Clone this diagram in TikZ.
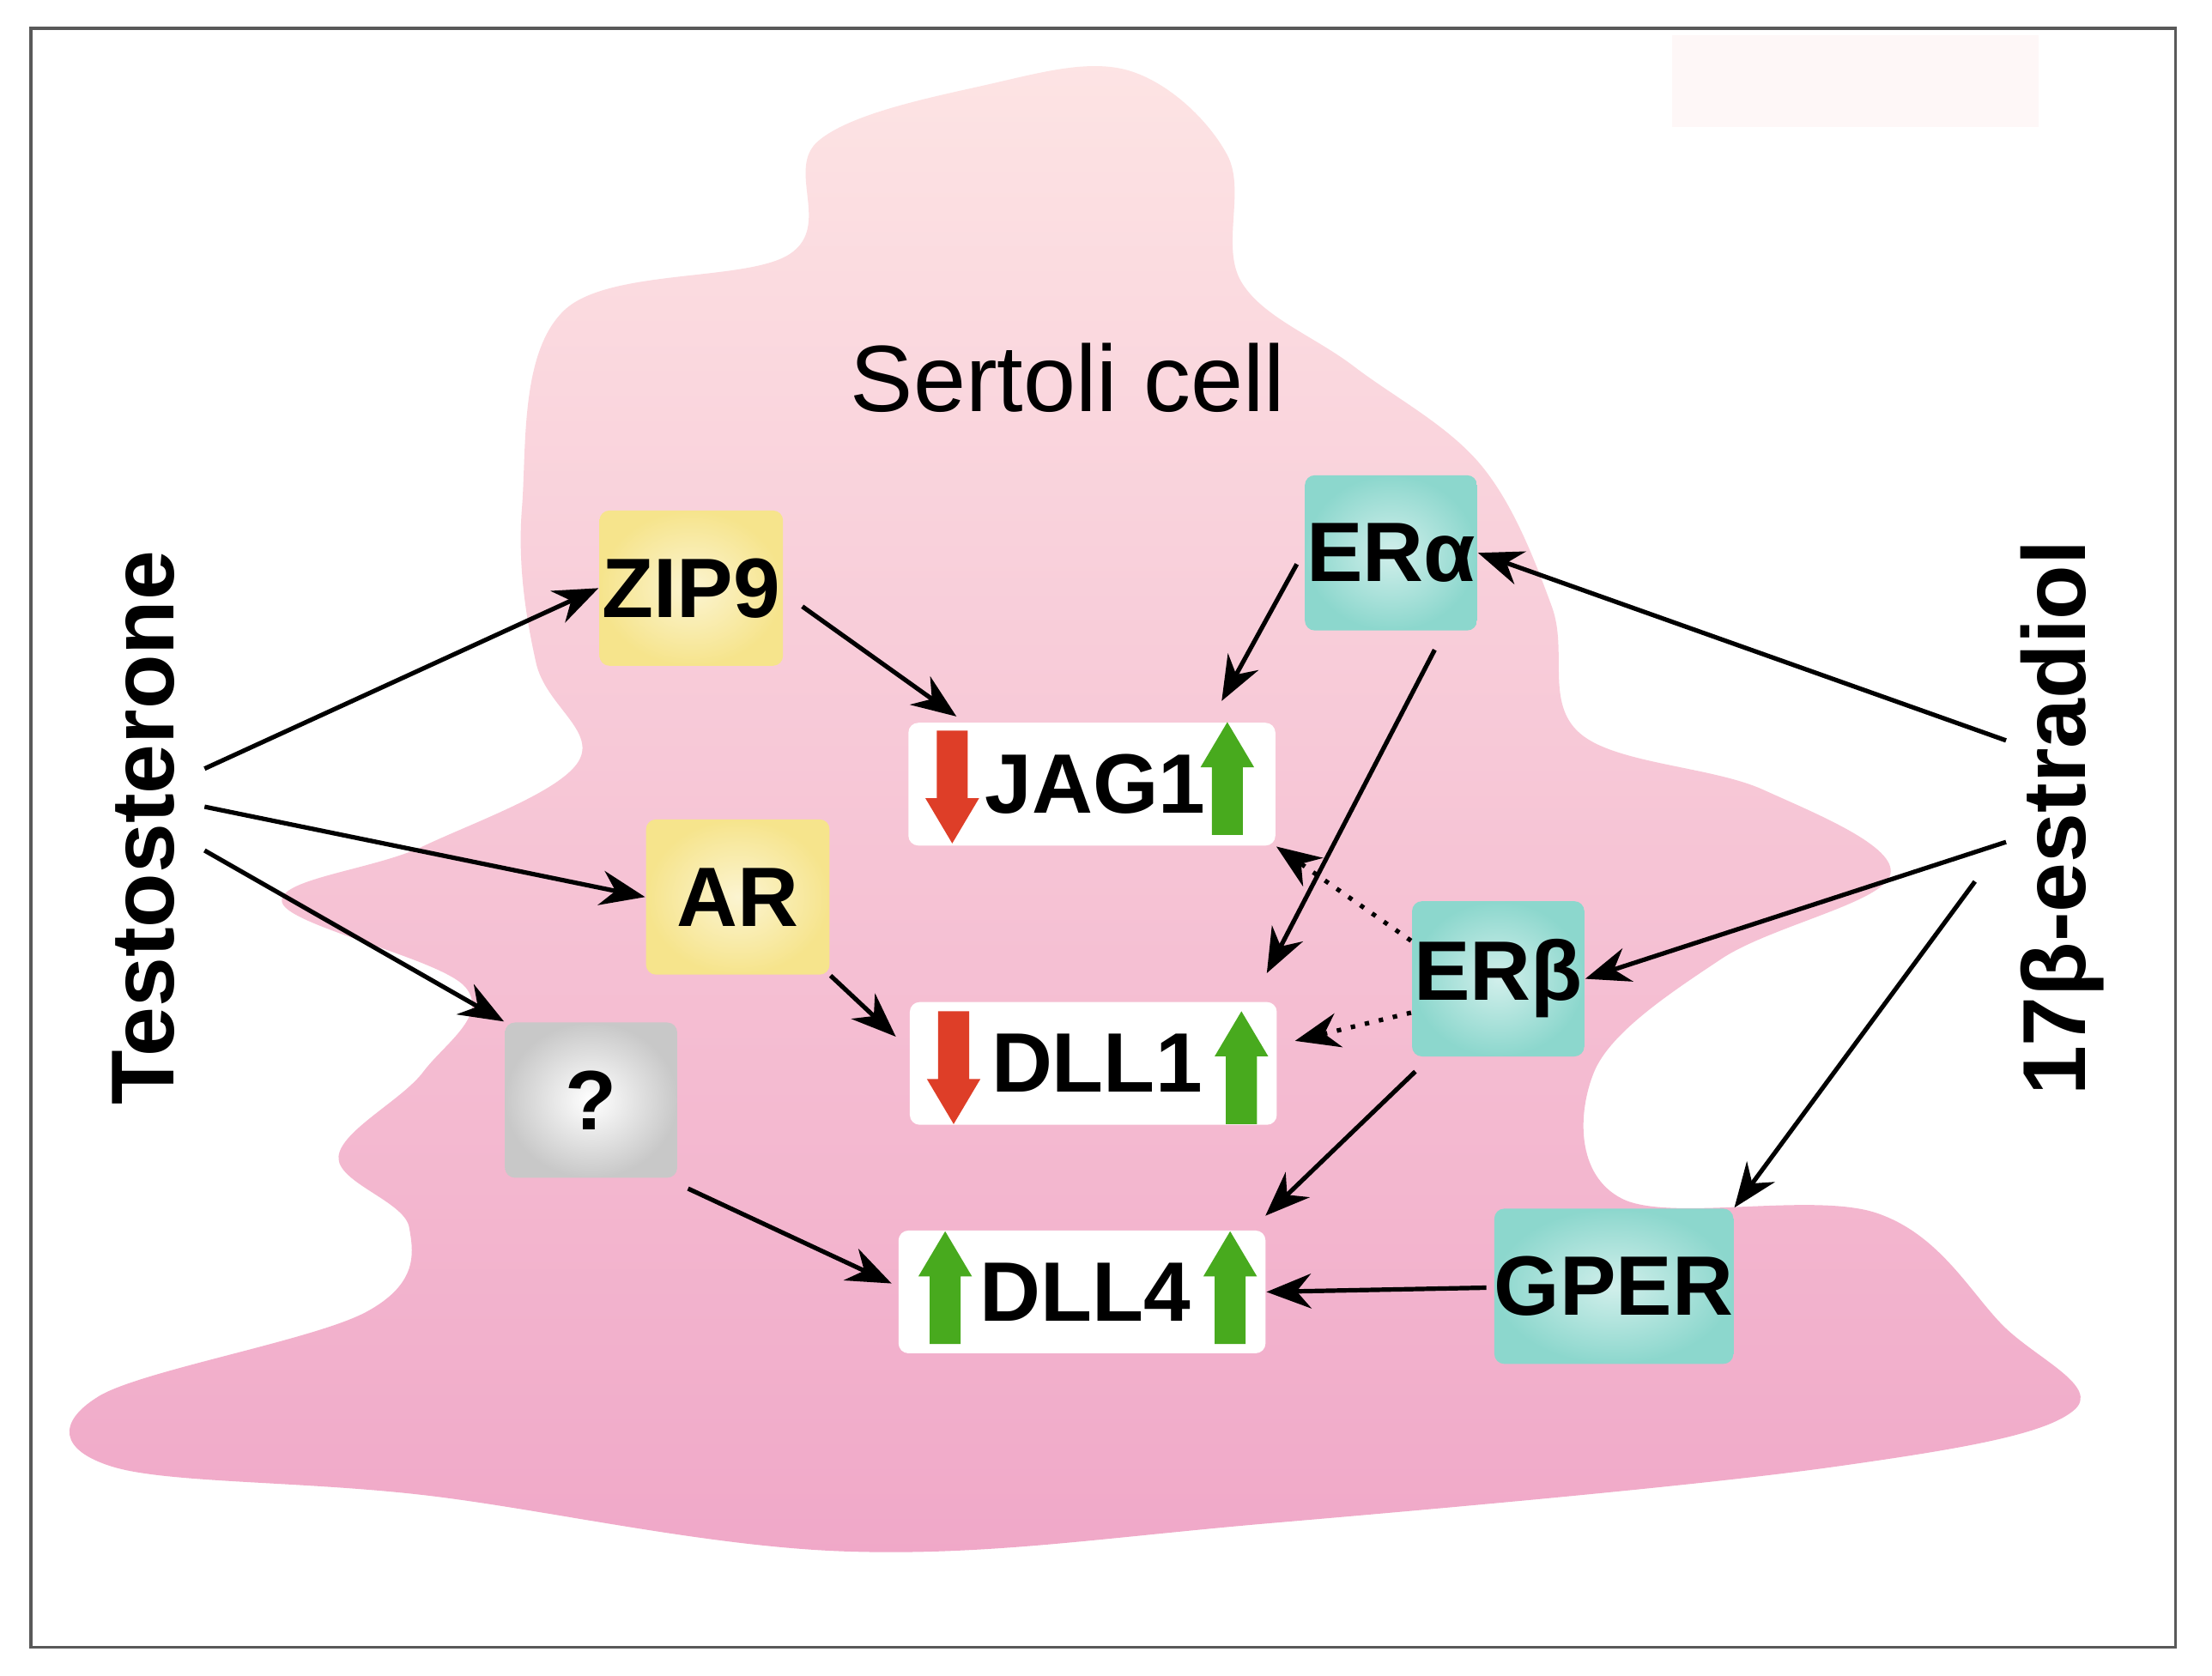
\documentclass[tikz,border=0pt]{standalone}
\usepackage{fontspec}
\setmainfont{Liberation Sans}
\usetikzlibrary{arrows.meta}
\definecolor{cellTop}{RGB}{253,228,228}
\definecolor{cellBot}{RGB}{240,168,200}
\definecolor{recY}{RGB}{246,228,140}
\definecolor{recT}{RGB}{140,215,205}
\definecolor{recG}{RGB}{200,200,200}
\definecolor{upG}{RGB}{72,170,30}
\definecolor{dnR}{RGB}{222,62,40}
\tikzset{
  arrow/.style={line width=0.9pt,-{Stealth[length=9pt,width=7pt]}},
  dotarrow/.style={arrow,dotted},
  rec/.style={minimum width=#1, minimum height=1.1cm, rounded corners=2pt,
    font=\fontsize{17}{20}\selectfont\bfseries, inner sep=0pt},
  yrec/.style={rec=1.3cm, shading=radial, inner color=white!60!recY, outer color=recY},
  trec/.style={rec=1.22cm, shading=radial, inner color=white!60!recT, outer color=recT},
  grec/.style={rec=1.22cm, shading=radial, inner color=white, outer color=recG},
  gene/.style={fill=white, rounded corners=2pt, minimum width=2.6cm, minimum height=0.87cm,
    font=\fontsize{17}{20}\selectfont\bfseries},
  up/.pic={\fill[upG] (-11,40) -- (-11,-8) -- (-19,-8) -- (0,-40) -- (19,-8) -- (11,-8) -- (11,40) -- cycle;},
  dn/.pic={\fill[dnR] (-11,-40) -- (-11,8) -- (-19,8) -- (0,40) -- (19,8) -- (11,8) -- (11,-40) -- cycle;},
}
\begin{document}
\begin{tikzpicture}[x=0.01cm,y=-0.01cm]
  \useasboundingbox (0,0) rectangle (1568,1188);
  % frame
  \fill[white] (0,0) rectangle (1568,1188);
  \draw[line width=0.6pt, gray!70!black] (22,20) rectangle (1542,1168);
  \fill[cellTop!30] (1185,25) rectangle (1445,90);

  % CELL
  \shade[top color=cellTop, bottom color=cellBot] plot[smooth cycle, tension=0.6] coordinates {
    (800,50) (870,110) (880,200) (960,260) (1050,330) (1100,430) (1120,520)
    (1250,560) (1340,620) (1220,680) (1130,760) (1150,850) (1330,860) (1420,940)
    (1470,1000) (1300,1040) (900,1080) (600,1100) (300,1060) (80,1040) (70,990)
    (260,930) (290,870) (240,820) (300,760) (330,700) (200,640) (300,600)
    (410,540) (380,470) (370,360) (400,220) (560,180) (580,100) (700,60)};
  \node[font=\fontsize{19}{22}\selectfont] (cell) at (757,268) {Sertoli cell};

  % HORMONES
  \node[rotate=90, font=\fontsize{18}{22}\selectfont\bfseries] (testo) at (102,587) {Testosterone};
  \node[rotate=90, font=\fontsize{18}{22}\selectfont\bfseries] (estr) at (1462,580) {17β-estradiol};
  \coordinate (t1) at (145,545);
  \coordinate (t2) at (145,572);
  \coordinate (t3) at (145,603);
  \coordinate (e1) at (1422,525);
  \coordinate (e2) at (1422,597);
  \coordinate (e3) at (1400,625);

  % RECEPTORS
  \node[yrec] (zip) at (490,417) {ZIP9};
  \node[yrec=1.23cm] (ar) at (523,636) {AR};
  \node[grec] (unk) at (419,780) {?};
  \node[trec] (era) at (986,392) {ERα};
  \node[trec=1.25cm] (erb) at (1062,694) {ERβ};
  \node[trec=1.88cm] (gper) at (1144,912) {GPER};

  % GENES
  \node[gene] (jag) at (774,556) {\hspace{0.05cm}JAG1};
  \node[gene] (dll1) at (775,754) {\hspace{0.05cm}DLL1};
  \node[gene] (dll4) at (767,916) {\hspace{0.05cm}DLL4};
  \pic at (675,558) {dn};
  \pic at (870,552) {up};
  \pic at (676,757) {dn};
  \pic at (880,757) {up};
  \pic at (670,913) {up};
  \pic at (872,913) {up};

  % CONNECTORS
  \draw[arrow] (t1) -- (zip.west);
  \draw[arrow] (t2) -- (ar.west);
  \draw[arrow] (t3) -- (unk.north west);
  \draw[arrow] (zip.east) ++(13,13) -- (678,508);
  \draw[arrow] (ar.south east) -- (635,735);
  \draw[arrow] (unk.south east) ++(7,7) -- (632,910);
  \draw[arrow] (era.west) ++(-5,8) -- (866,497);
  \draw[arrow] (era.south) ++(31,13) -- (898,690);
  \draw[dotarrow] (erb.west) ++(0,-27) -- (jag.south east);
  \draw[dotarrow] (erb.west) ++(0,24) -- (918,738);
  \draw[arrow] (erb.south west) ++(3,10) -- (897,862);
  \draw[arrow] (gper.west) ++(-5,1) -- (dll4.east);
  \draw[arrow] (e1) -- (era.east);
  \draw[arrow] (e2) -- (erb.east);
  \draw[arrow] (e3) -- (gper.north east);
\end{tikzpicture}
\end{document}
